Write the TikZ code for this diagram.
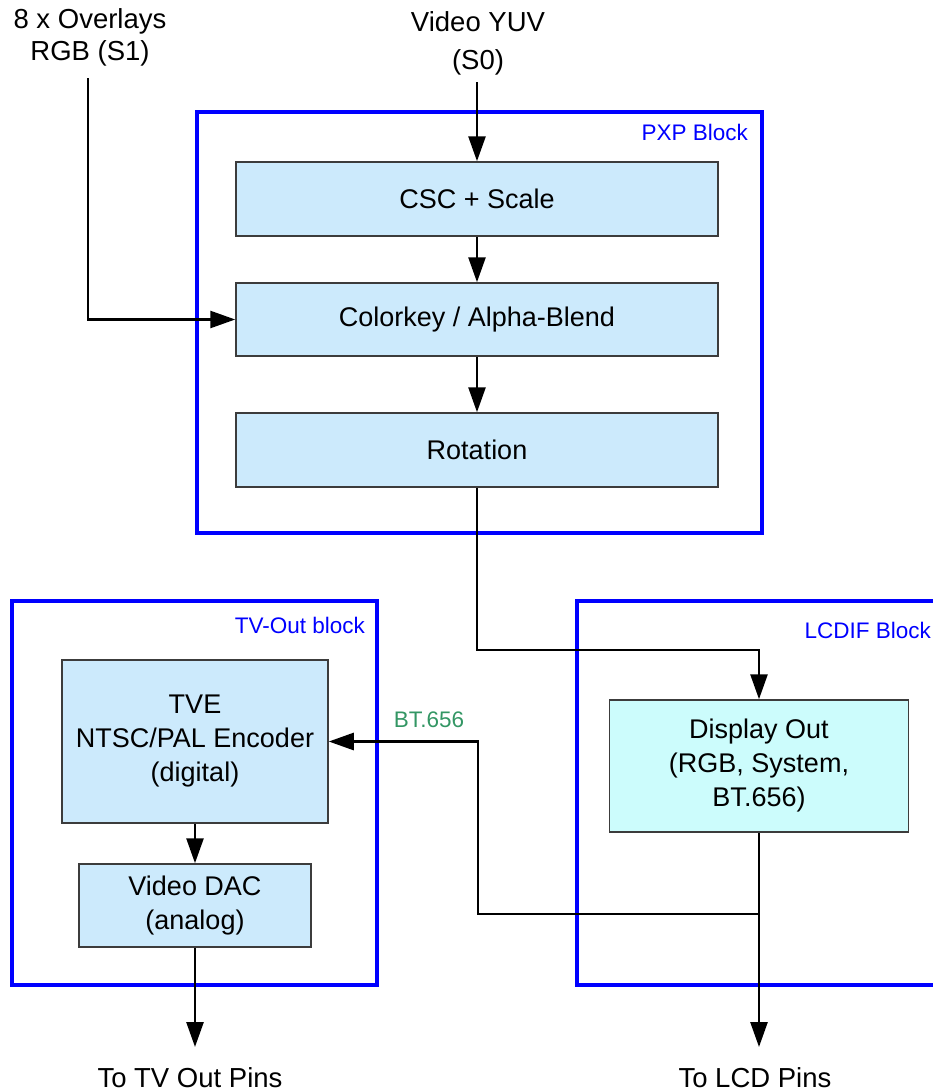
\documentclass[tikz,border=0pt]{standalone}
\usepackage{fontspec}
\setmainfont{Liberation Sans}
\usetikzlibrary{arrows.meta}
\definecolor{boxblue}{RGB}{204,234,252}
\definecolor{boxcyan}{RGB}{204,252,252}
\definecolor{boxedge}{RGB}{60,60,60}
\definecolor{blockblue}{RGB}{0,0,255}
\definecolor{sigreen}{RGB}{51,150,100}
\tikzset{
  fbox/.style={draw=boxedge, line width=1.5pt, fill=boxblue, align=center, inner sep=0pt,
     font=\fontsize{27}{34}\selectfont},
  txt/.style={align=center, inner sep=0pt, font=\fontsize{27.5}{32}\selectfont},
  blocklbl/.style={text=blockblue, inner sep=0pt, font=\fontsize{22.5}{24}\selectfont},
  blockline/.style={draw=blockblue, line width=3.2pt},
  arr/.style={draw=black, line width=2.6pt, -{Triangle[length=25pt,width=17pt]}},
}
\begin{document}
\begin{tikzpicture}[x=1pt,y=-1pt]
\path[use as bounding box] (0,0) rectangle (933,1092);
% blocks
\draw[blockline] (197,112) rectangle (762,533);
\draw[blockline] (12,601) rectangle (377,985);
\draw[blockline] (577,601) rectangle (945,985);
\node[blocklbl, anchor=east] (pxplbl) at (748,132) {PXP Block};
\node[blocklbl, anchor=east] (tvlbl) at (365,625) {TV-Out block};
\node[blocklbl, anchor=east] (lcdlbl) at (931,630) {LCDIF Block};
% boxes
\node[fbox, minimum width=482pt, minimum height=74pt] (csc) at (477,199) {CSC + Scale};
\node[fbox, minimum width=482pt, minimum height=73pt] (ck) at (477,319.5) {Colorkey / Alpha-Blend};
\node[fbox, minimum width=482pt, minimum height=74pt] (rot) at (477,450) {Rotation};
\node[fbox, fill=boxcyan, minimum width=299pt, minimum height=132pt] (disp) at (759,766) {Display Out\\(RGB, System,\\BT.656)};
\node[fbox, minimum width=266pt, minimum height=163pt] (tve) at (195,741.5) {TVE\\NTSC/PAL Encoder\\(digital)};
\node[fbox, minimum width=232pt, minimum height=83pt] (dac) at (195,905.5) {Video DAC\\(analog)};
% texts
\node[txt] (ovl) at (90,37) {8 x Overlays\\RGB (S1)};
\node[txt] (yuv) at (478,22) {Video YUV};
\node[txt] (s0lbl) at (478,62) {(S0)};
\node[txt] (tvpinlbl) at (190,1078) {To TV Out Pins};
\node[txt] (lcdpinlbl) at (755,1078) {To LCD Pins};
\node[blocklbl, text=sigreen] (btlbl) at (429,720) {BT.656};
% coordinates
\coordinate (s1) at (88,78);
\coordinate (s0) at (477,82);
\coordinate (j1) at (759,650);
\coordinate (j2) at (759,914);
\coordinate (j3) at (478,741.5);
\coordinate (lcdpin) at (759,1047);
\coordinate (tvpin) at (195,1047);
% connectors
\draw[arr] (s1) |- (ck.west);
\draw[arr] (s0) -- (csc.north);
\draw[arr] (csc) -- (ck);
\draw[arr] (ck) -- (rot);
\draw[arr] (rot.south) |- (j1) -- (disp.north);
\draw[arr] (disp.south) -- (lcdpin);
\draw[arr] (j2) -| (j3) -- (tve.east);
\draw[arr] (tve) -- (dac);
\draw[arr] (dac.south) -- (tvpin);
\end{tikzpicture}
\end{document}
